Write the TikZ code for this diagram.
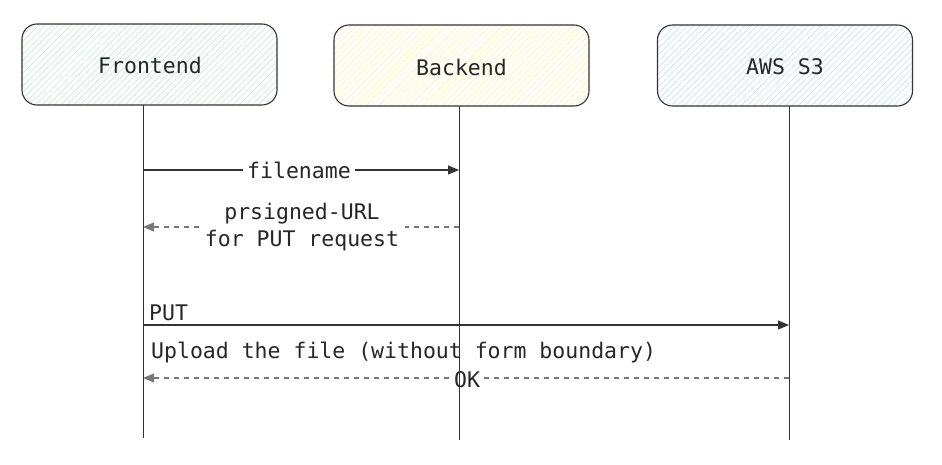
\documentclass[tikz,border=0pt]{standalone}
\usepackage{fontspec}
\setmonofont{DejaVu Sans Mono}
\usetikzlibrary{arrows.meta,patterns.meta}
\definecolor{edge}{HTML}{333333}
\definecolor{hgreen}{HTML}{C4EDCB}
\definecolor{hyellow}{HTML}{FFF0B0}
\definecolor{hblue}{HTML}{C2E0F8}
\definecolor{dashc}{HTML}{777777}
\tikzset{
  txt/.style={font=\ttfamily\fontsize{21.5}{27}\selectfont, text=black!85},
  actor/.style={draw=edge, line width=1.1pt, rounded corners=15pt,
    minimum width=255pt, minimum height=81pt, txt},
  hgr/.style={pattern={Lines[angle=45,distance=4.5pt,line width=0.6pt]}, pattern color=hgreen},
  hye/.style={pattern={Lines[angle=45,distance=4.5pt,line width=0.6pt]}, pattern color=hyellow},
  hbl/.style={pattern={Lines[angle=45,distance=4.5pt,line width=0.6pt]}, pattern color=hblue},
  lifeline/.style={draw=edge, line width=1pt},
  msg/.style={draw=edge, line width=1.1pt, -{Triangle[length=11pt,width=9pt]}},
  reply/.style={draw=dashc, line width=1.2pt, dash pattern=on 5pt off 5pt,
    -{Triangle[length=11pt,width=9pt]}, color=dashc},
  lbl/.style={txt, fill=white, inner sep=4pt},
}
\begin{document}
\begin{tikzpicture}[x=1pt,y=-1pt]
\useasboundingbox (0,0) rectangle (942,465);
% actors
\node[actor, hgr] (fe) at (149.5,64.5) {};
\node[txt] (fet) at (150,65) {Frontend};
\node[actor, hye] (be) at (461.5,65.5) {};
\node[txt] (bet) at (461.5,67) {Backend};
\node[actor, hbl] (s3) at (785,65.5) {};
\node[txt] (s3t) at (785,67) {AWS S3};
% lifeline ends and message endpoints
\coordinate (feb) at (143,438);
\coordinate (beb) at (459,440);
\coordinate (s3b) at (789,440);
\coordinate (m1a) at (143,170);
\coordinate (m1b) at (459,170);
\coordinate (m2a) at (143,227);
\coordinate (m2b) at (459,227);
\coordinate (m3a) at (143,325);
\coordinate (m3b) at (789,325);
\coordinate (m4a) at (143,378);
\coordinate (m4b) at (789,378);
% messages
\draw[msg] (m1a) -- (m1b);
\node[lbl] (l1) at (299,170) {filename};
\draw[reply] (m2b) -- (m2a);
\node[lbl, align=center, inner xsep=6pt, inner ysep=1pt] (l2) at (302,227) {prsigned-URL\\for PUT request};
\draw[msg] (m3a) -- (m3b);
\node[txt, anchor=west, inner sep=0pt] (l3) at (149,313) {PUT};
\node[txt, anchor=west, inner sep=0pt] (l3b) at (151,353) {Upload the file (without form boundary)};
\draw[reply] (m4b) -- (m4a);
\node[lbl, inner xsep=2pt, inner ysep=0pt] (l4) at (467,380) {OK};
% lifelines on top
\draw[lifeline] (143,105) -- (feb);
\draw[lifeline] (459,106) -- (beb);
\draw[lifeline] (789,106) -- (s3b);
\end{tikzpicture}
\end{document}
